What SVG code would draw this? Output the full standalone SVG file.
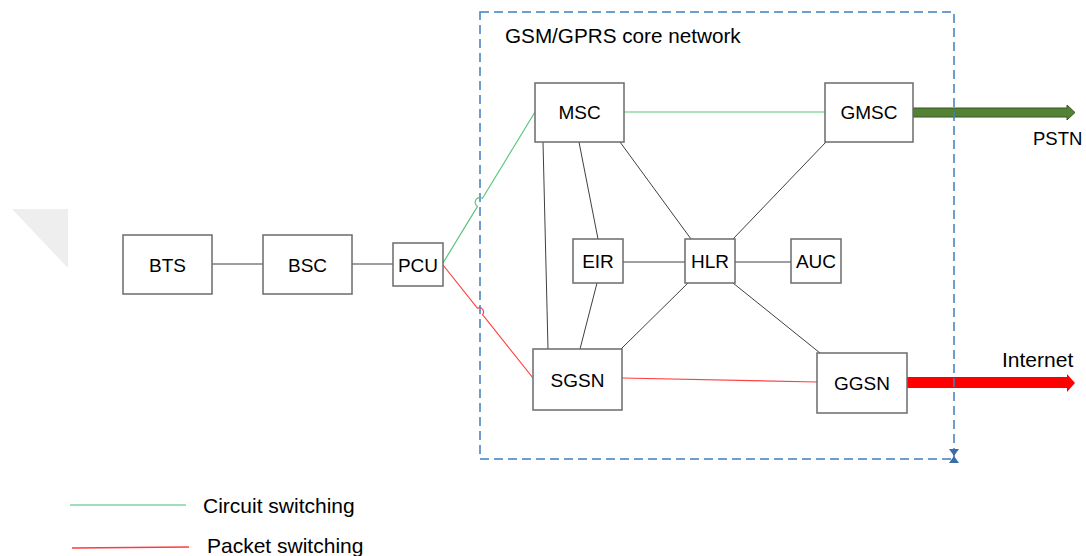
<svg xmlns="http://www.w3.org/2000/svg" width="1086" height="556" viewBox="0 0 1086 556">
  <style>
    .node rect { fill: #ffffff; stroke: #6b6b6b; stroke-width: 1.5; }
    .node text { font-family: "Liberation Sans", Arial, sans-serif; font-size: 19px; fill: #000; text-anchor: middle; }
    .link { stroke: #404040; stroke-width: 1; fill: none; }
    .cs { stroke: #5cc67f; stroke-width: 1.2; fill: none; }
    .ps { stroke: #ff4040; stroke-width: 1.2; fill: none; }
    .label { font-family: "Liberation Sans", Arial, sans-serif; fill: #000; }
  </style>

  <rect width="1086" height="556" fill="#ffffff"/>

  <!-- faint corner mark at the left edge -->
  <polygon points="12,209 68,209 68,268" fill="#eeeeee"/>

  <!-- external trunks -->
  <g id="trunks">
    <polygon points="913,108 1067,108 1067,105 1075,112.5 1067,120 1067,117 913,117" fill="#548235" stroke="#375623" stroke-width="1"/>
    <polygon points="907,377 1067,377 1067,374 1075,383 1067,392 1067,388 907,388" fill="#ff0000"/>
  </g>

  <!-- core network boundary -->
  <g id="core-boundary">
    <rect x="480" y="12" width="474" height="447" fill="none" stroke="#3f7fc0" stroke-width="1.5" stroke-dasharray="9 5"/>
    <polygon points="949,449 959,449 954,456 959,463 949,463 954,456" fill="#3a6ea5"/>
    <text class="label" x="505" y="43" font-size="20.7">GSM/GPRS core network</text>
  </g>

  <!-- connectors -->
  <g id="connectors">
    <line class="link" x1="212" y1="264" x2="263" y2="264"/>
    <line class="link" x1="352" y1="264" x2="393" y2="264"/>
    <path class="cs" d="M443,263 L477.5,206.4 A4.8,4.8 0 0 1 482.5,198.2 L535,112"/>
    <path class="ps" d="M443,265 L477.5,308.3 A4.1,4.1 0 0 1 482.5,314.6 L533,378"/>
    <line class="cs" x1="624" y1="112" x2="825" y2="112"/>
    <line class="link" x1="543" y1="142" x2="548" y2="349"/>
    <line class="link" x1="579" y1="142" x2="598" y2="239"/>
    <line class="link" x1="620" y1="142" x2="691" y2="239"/>
    <line class="link" x1="597" y1="283" x2="580" y2="349"/>
    <line class="link" x1="623" y1="262" x2="685" y2="262"/>
    <line class="link" x1="735" y1="262" x2="791" y2="262"/>
    <line class="link" x1="733" y1="239" x2="826" y2="142"/>
    <line class="link" x1="688" y1="283" x2="621" y2="349"/>
    <line class="link" x1="733" y1="283" x2="820" y2="353"/>
    <line class="ps" x1="622" y1="378" x2="817" y2="382"/>
  </g>

  <!-- network elements -->
  <g id="bts" class="node"><rect x="123" y="235" width="89" height="59"/><text x="167.5" y="271.5">BTS</text></g>
  <g id="bsc" class="node"><rect x="263" y="235" width="89" height="59"/><text x="307.5" y="271.5">BSC</text></g>
  <g id="pcu" class="node"><rect x="393" y="243" width="50" height="43"/><text x="418" y="271.5">PCU</text></g>
  <g id="msc" class="node"><rect x="535" y="83" width="89" height="59"/><text x="579.5" y="119">MSC</text></g>
  <g id="gmsc" class="node"><rect x="825" y="83" width="88" height="59"/><text x="869" y="119">GMSC</text></g>
  <g id="eir" class="node"><rect x="573" y="239" width="50" height="44"/><text x="598" y="268">EIR</text></g>
  <g id="hlr" class="node"><rect x="685" y="239" width="50" height="44"/><text x="710" y="268">HLR</text></g>
  <g id="auc" class="node"><rect x="791" y="239" width="50" height="44"/><text x="816" y="268">AUC</text></g>
  <g id="sgsn" class="node"><rect x="533" y="349" width="89" height="61"/><text x="577.5" y="386.5">SGSN</text></g>
  <g id="ggsn" class="node"><rect x="817" y="353" width="90" height="60"/><text x="862" y="390">GGSN</text></g>

  <!-- trunk labels -->
  <text class="label" x="1033" y="145" font-size="18.5">PSTN</text>
  <text class="label" x="1002" y="367" font-size="21">Internet</text>

  <!-- legend -->
  <g id="legend">
    <line x1="70" y1="505" x2="186" y2="505" stroke="#7fd3a0" stroke-width="1.5"/>
    <line x1="72" y1="548" x2="189" y2="547" stroke="#ff3b3b" stroke-width="1.5"/>
    <text class="label" x="203" y="513" font-size="21">Circuit switching</text>
    <text class="label" x="207" y="553" font-size="21">Packet switching</text>
  </g>
</svg>
